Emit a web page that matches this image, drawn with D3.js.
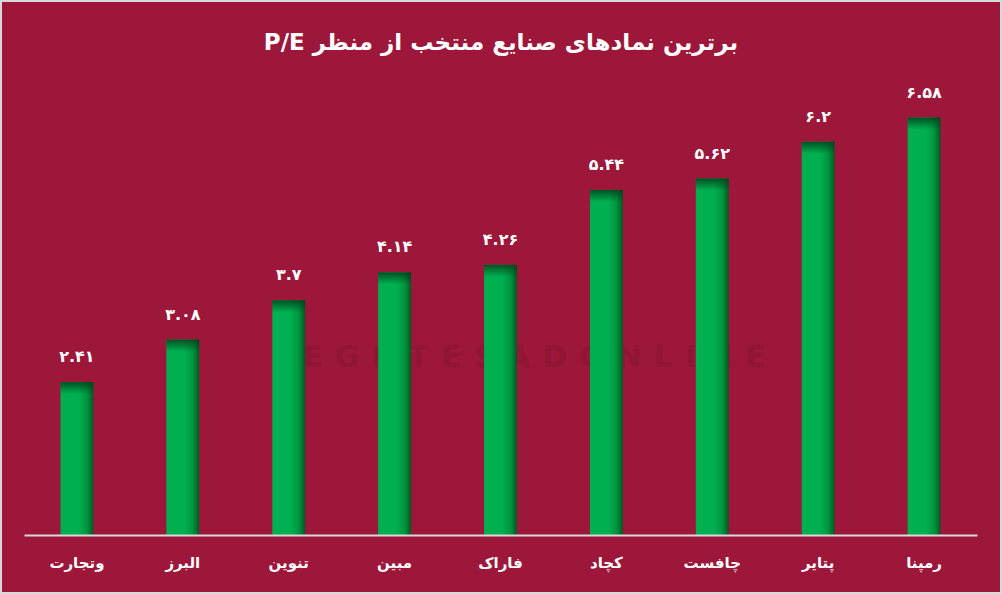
<!DOCTYPE html>
<html><head><meta charset="utf-8">
<script src="https://cdn.jsdelivr.net/npm/d3@7"></script>
<style>html,body{margin:0;padding:0;background:#fff}svg{display:block}</style>
</head><body><svg id="c" width="1002" height="594"></svg>
<script>
const categories = ["وتجارت","البرز","تنوین","مبین","فاراک","کچاد","چافست","پتایر","رمپنا"];
const values = [2.41, 3.08, 3.7, 4.14, 4.26, 5.44, 5.62, 6.2, 6.58];
const title = "برترین نمادهای صنایع منتخب از منظر P/E";

const W = 1002, H = 594;
const m = {left: 24, right: 25, top: 91, bottom: 59};
const svg = d3.select("#c");
const font = "'DejaVu Sans', sans-serif";

svg.append("rect").attr("x",1).attr("y",1).attr("width",W-2).attr("height",H-2)
  .attr("fill","#9D173B").attr("stroke","#d9d9d9").attr("stroke-width",2);

const defs = svg.append("defs");
const gh = defs.append("linearGradient").attr("id","gh").attr("x1","0").attr("x2","1").attr("y1","0").attr("y2","0");
gh.append("stop").attr("offset","0%").attr("stop-color","#00B050");
gh.append("stop").attr("offset","55%").attr("stop-color","#00B050");
gh.append("stop").attr("offset","80%").attr("stop-color","#00953f");
gh.append("stop").attr("offset","100%").attr("stop-color","#005a22");
const gv = defs.append("linearGradient").attr("id","gv").attr("x1","0").attr("x2","0").attr("y1","0").attr("y2","1");
gv.append("stop").attr("offset","0%").attr("stop-color","#00401a").attr("stop-opacity",0.85);
gv.append("stop").attr("offset","100%").attr("stop-color","#00401a").attr("stop-opacity",0);

// faint watermark (latin part only)
svg.append("text").attr("x",540).attr("y",367).attr("text-anchor","middle")
  .attr("font-family",font).attr("font-weight","bold").attr("font-size",30).attr("letter-spacing",12)
  .attr("fill","#911535").text("EGHTESADONLINE");

const x = d3.scaleBand().domain(categories).range([m.left, W-m.right]).paddingInner(0.69).paddingOuter(0.345);
const y = d3.scaleLinear().domain([0,7]).range([H-m.bottom, m.top]);

const g = svg.append("g");
g.selectAll("rect.bar").data(values).join("rect").attr("class","bar")
  .attr("x",(d,i)=>x(categories[i])).attr("y",d=>y(d))
  .attr("width",x.bandwidth()).attr("height",d=>y(0)-y(d)).attr("fill","url(#gh)");
g.selectAll("rect.top").data(values).join("rect").attr("class","top")
  .attr("x",(d,i)=>x(categories[i])).attr("y",d=>y(d))
  .attr("width",x.bandwidth()).attr("height",12).attr("fill","url(#gv)");

const fa = s => s.replace(/[0-9]/g, c => "۰۱۲۳۴۵۶۷۸۹"[+c]);
g.selectAll("text.val").data(values).join("text").attr("class","val")
  .attr("x",(d,i)=>x(categories[i])+x.bandwidth()/2).attr("y",d=>y(d)-20)
  .attr("text-anchor","middle").attr("font-family",font).attr("font-weight","bold")
  .attr("font-size",16).attr("fill","#fff").text(d=>fa(String(d)));

const xAxis = svg.append("g").attr("transform",`translate(0,${y(0)})`)
  .call(d3.axisBottom(x).tickSize(0).tickPadding(22));
xAxis.select(".domain").attr("stroke","#d9d9d9").attr("stroke-width",2);
xAxis.selectAll("text").attr("font-family",font).attr("font-weight","bold")
  .attr("font-size",15).attr("fill","#fff").attr("direction","rtl");

svg.append("text").attr("x",W/2).attr("y",50).attr("text-anchor","middle")
  .attr("font-family",font).attr("font-weight","bold").attr("font-size",23)
  .attr("fill","#fff").attr("direction","rtl").text(title);
</script></body></html>
